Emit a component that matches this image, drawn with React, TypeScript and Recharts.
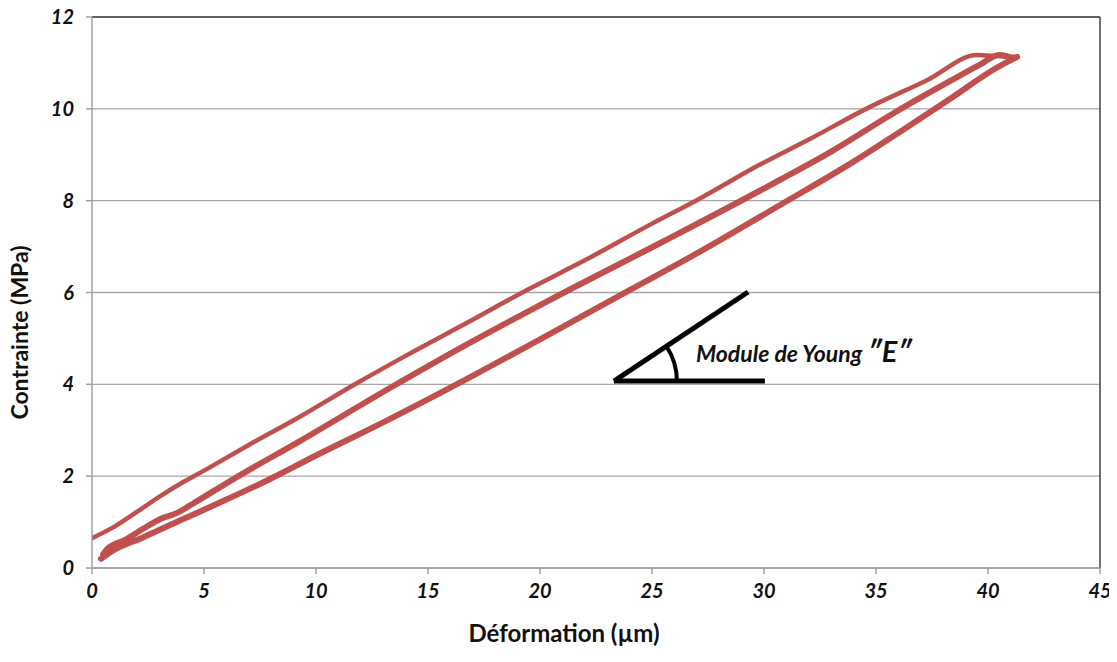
import React from "react";
import {
  LineChart,
  Line,
  XAxis,
  YAxis,
  CartesianGrid,
  ReferenceLine,
  ReferenceDot,
} from "recharts";

// ---- data ----
const xTicks = [0, 5, 10, 15, 20, 25, 30, 35, 40, 45];
const yTicks = [0, 2, 4, 6, 8, 10, 12];

const upperX = [0, 1, 2, 3, 4, 5, 7, 9.3, 11.7, 14, 16.7, 19.4, 22, 25, 27, 29.8, 32, 34.6, 37.3, 39.5, 40.4, 41.3];
const upperY = [0.65, 0.9, 1.22, 1.55, 1.85, 2.12, 2.68, 3.3, 3.99, 4.62, 5.33, 6.05, 6.7, 7.5, 8.01, 8.78, 9.33, 10.01, 10.63, 11.17, 11.15, 11.13];

const midX = [0.5, 0.7, 1.5, 2.3, 3.1, 3.8, 4.5, 6.5, 9.3, 13.3, 16.7, 20.45, 25.5, 30.7, 33, 35.8, 38.4, 39.6, 40.5, 41.0];
const midY = [0.3, 0.42, 0.62, 0.86, 1.08, 1.2, 1.4, 1.99, 2.77, 3.92, 4.86, 5.84, 7.11, 8.45, 9.07, 9.91, 10.63, 10.95, 11.17, 11.12];

const lowX = [0.4, 1, 2.2, 4, 5.64, 8, 10, 13, 16.4, 20.45, 24, 27, 30.7, 34, 36.2, 38.5, 40.2, 41.3];
const lowY = [0.2, 0.4, 0.65, 1.05, 1.41, 1.95, 2.45, 3.17, 4.03, 5.1, 6.05, 6.85, 7.9, 8.85, 9.54, 10.28, 10.84, 11.13];

// annotation anchor points (data coordinates)
const angleVertex = { x: 23.3, y: 4.07 };
const angleSlantEnd = { x: 29.29, y: 6.01 };
const angleBaseEnd = { x: 30.04, y: 4.07 };

const annotationText = "Module de Young ";
const annotationSymbol = "\u2033E\u2033";

const xTitle = "Déformation (µm)";
const yTitle = "Contrainte (MPa)";

const toPoints = (xs: number[], ys: number[]) => xs.map((x, i) => ({ x, y: ys[i] }));
const upperData = toPoints(upperX, upperY);
const midData = toPoints(midX, midY);
const lowData = toPoints(lowX, lowY);

const FONT = "Lato, 'Open Sans', sans-serif";
const RED = "#C0504D";

const tickStyle = {
  fontFamily: FONT,
  fontSize: 20,
  fontWeight: 700,
  fontStyle: "italic",
  fill: "#111",
};

const XTitle = (props: any) => {
  const vb = props.viewBox;
  return (
    <text
      x={vb.x + vb.width / 2 - 32}
      y={vb.y + 74}
      textAnchor="middle"
      style={{ fontFamily: FONT, fontSize: 24, fontWeight: 700, fill: "#111" }}
    >
      {xTitle}
    </text>
  );
};

const YTitle = (props: any) => {
  const vb = props.viewBox;
  const cx = 28;
  const cy = vb.y + vb.height / 2 + 40;
  return (
    <text
      x={cx}
      y={cy}
      transform={`rotate(-90 ${cx} ${cy})`}
      textAnchor="middle"
      style={{ fontFamily: FONT, fontSize: 23, fontWeight: 700, fill: "#111" }}
    >
      {yTitle}
    </text>
  );
};

const AngleMark = (props: any) => {
  const { cx, cy } = props;
  if (cx == null || cy == null) return null;
  const r = 63;
  const a = Math.atan2(89, 134);
  const ex = cx + r * Math.cos(a);
  const ey = cy - r * Math.sin(a);
  return (
    <g>
      <path
        d={`M ${cx + r} ${cy} A ${r} ${r} 0 0 0 ${ex} ${ey}`}
        fill="none"
        stroke="#000"
        strokeWidth={4}
      />
      <text
        x={cx + 82}
        y={cy - 19}
        style={{ fontFamily: FONT, fontWeight: 700, fontStyle: "italic", fill: "#111" }}
      >
        <tspan fontSize={23}>{annotationText}</tspan>
        <tspan fontSize={29}>{annotationSymbol}</tspan>
      </text>
    </g>
  );
};

export default function App() {
  return (
    <div style={{ margin: -8 }}>
      <LineChart
        width={1117}
        height={662}
        margin={{ top: 17, right: 17, left: 0, bottom: 0 }}
      >
        <CartesianGrid horizontal vertical={false} stroke="#a6a6a6" strokeWidth={1.3} />
        <XAxis
          type="number"
          dataKey="x"
          domain={[0, 45]}
          ticks={xTicks}
          interval={0}
          allowDataOverflow
          height={94}
          tickSize={6}
          tickMargin={10}
          stroke="#a0a0a0"
          strokeWidth={1.5}
          tick={tickStyle}
          label={<XTitle />}
        />
        <YAxis
          type="number"
          dataKey="y"
          domain={[0, 12]}
          ticks={yTicks}
          interval={0}
          allowDataOverflow
          width={92}
          tickSize={6}
          tickMargin={12}
          stroke="#a0a0a0"
          strokeWidth={1.5}
          tick={tickStyle}
          label={<YTitle />}
        />
        <ReferenceLine y={12} stroke="#404040" strokeWidth={1.5} />
        <ReferenceLine x={45} stroke="#404040" strokeWidth={1.5} />

        <Line data={lowData} dataKey="y" type="monotone" stroke={RED} strokeWidth={6} dot={false} isAnimationActive={false} strokeLinejoin="round" strokeLinecap="round" />
        <Line data={midData} dataKey="y" type="monotone" stroke={RED} strokeWidth={6} dot={false} isAnimationActive={false} strokeLinejoin="round" strokeLinecap="round" />
        <Line data={upperData} dataKey="y" type="monotone" stroke={RED} strokeWidth={4.5} dot={false} isAnimationActive={false} strokeLinejoin="round" strokeLinecap="round" />

        <ReferenceLine segment={[angleVertex, angleSlantEnd]} stroke="#000" strokeWidth={5} />
        <ReferenceLine segment={[angleVertex, angleBaseEnd]} stroke="#000" strokeWidth={5} />
        <ReferenceDot
          x={angleVertex.x}
          y={angleVertex.y}
          r={0}
          shape={(p: any) => <AngleMark {...p} />}
        />
      </LineChart>
    </div>
  );
}
